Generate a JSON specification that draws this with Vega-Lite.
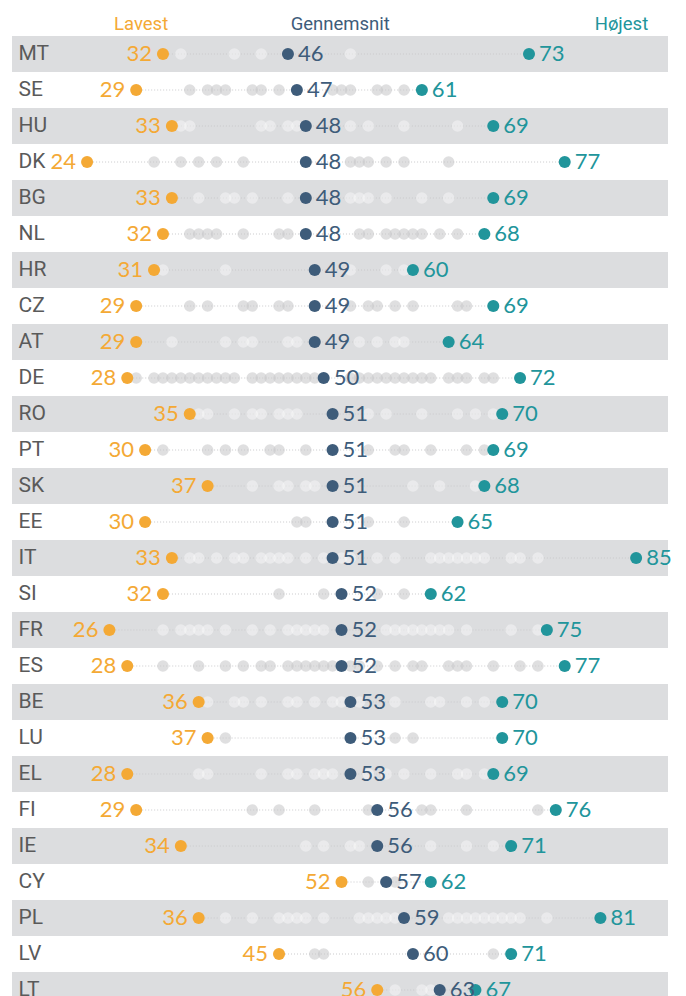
{
  "$schema": "https://vega.github.io/schema/vega-lite/v6.json",
  "autosize": "none",
  "width": 656,
  "height": 972,
  "padding": {"left": 12, "top": 36, "right": 18, "bottom": 0},
  "background": "#ffffff",
  "config": {"view": {"stroke": null}},
  "datasets": {
    "countries": [
      {"c": "MT", "min": 32, "avg": 46, "max": 73},
      {"c": "SE", "min": 29, "avg": 47, "max": 61},
      {"c": "HU", "min": 33, "avg": 48, "max": 69},
      {"c": "DK", "min": 23.5, "avg": 48, "max": 77},
      {"c": "BG", "min": 33, "avg": 48, "max": 69},
      {"c": "NL", "min": 32, "avg": 48, "max": 68},
      {"c": "HR", "min": 31, "avg": 49, "max": 60},
      {"c": "CZ", "min": 29, "avg": 49, "max": 69},
      {"c": "AT", "min": 29, "avg": 49, "max": 64},
      {"c": "DE", "min": 28, "avg": 50, "max": 72},
      {"c": "RO", "min": 35, "avg": 51, "max": 70},
      {"c": "PT", "min": 30, "avg": 51, "max": 69},
      {"c": "SK", "min": 37, "avg": 51, "max": 68},
      {"c": "EE", "min": 30, "avg": 51, "max": 65},
      {"c": "IT", "min": 33, "avg": 51, "max": 85},
      {"c": "SI", "min": 32, "avg": 52, "max": 62},
      {"c": "FR", "min": 26, "avg": 52, "max": 75},
      {"c": "ES", "min": 28, "avg": 52, "max": 77},
      {"c": "BE", "min": 36, "avg": 53, "max": 70},
      {"c": "LU", "min": 37, "avg": 53, "max": 70},
      {"c": "EL", "min": 28, "avg": 53, "max": 69},
      {"c": "FI", "min": 29, "avg": 56, "max": 76},
      {"c": "IE", "min": 34, "avg": 56, "max": 71},
      {"c": "CY", "min": 52, "avg": 57, "max": 62},
      {"c": "PL", "min": 36, "avg": 59, "max": 81},
      {"c": "LV", "min": 45, "avg": 60, "max": 71},
      {"c": "LT", "min": 56, "avg": 63, "max": 67}
    ],
    "regions": [
      {"c":"MT","v":34},{"c":"MT","v":40},{"c":"MT","v":43},{"c":"MT","v":53},
      {"c":"SE","v":35},{"c":"SE","v":37},{"c":"SE","v":38},{"c":"SE","v":39},{"c":"SE","v":42},{"c":"SE","v":43},{"c":"SE","v":45},{"c":"SE","v":51},{"c":"SE","v":52},{"c":"SE","v":53},{"c":"SE","v":56},{"c":"SE","v":57},{"c":"SE","v":59},
      {"c":"HU","v":34},{"c":"HU","v":35},{"c":"HU","v":43},{"c":"HU","v":44},{"c":"HU","v":46},{"c":"HU","v":47},{"c":"HU","v":53},{"c":"HU","v":55},{"c":"HU","v":59},{"c":"HU","v":65},
      {"c":"DK","v":31},{"c":"DK","v":34},{"c":"DK","v":36},{"c":"DK","v":38},{"c":"DK","v":41},{"c":"DK","v":53},{"c":"DK","v":54},{"c":"DK","v":55},{"c":"DK","v":57},{"c":"DK","v":59},{"c":"DK","v":64},
      {"c":"BG","v":36},{"c":"BG","v":39},{"c":"BG","v":40},{"c":"BG","v":42},{"c":"BG","v":46},{"c":"BG","v":53},{"c":"BG","v":54},{"c":"BG","v":55},{"c":"BG","v":57},{"c":"BG","v":61},{"c":"BG","v":64},
      {"c":"NL","v":35},{"c":"NL","v":36},{"c":"NL","v":37},{"c":"NL","v":38},{"c":"NL","v":41},{"c":"NL","v":45},{"c":"NL","v":46},{"c":"NL","v":54},{"c":"NL","v":55},{"c":"NL","v":57},{"c":"NL","v":58},{"c":"NL","v":59},{"c":"NL","v":60},{"c":"NL","v":61},{"c":"NL","v":63},{"c":"NL","v":65},
      {"c":"HR","v":32},{"c":"HR","v":39},{"c":"HR","v":53},{"c":"HR","v":57},{"c":"HR","v":59},
      {"c":"CZ","v":35},{"c":"CZ","v":37},{"c":"CZ","v":41},{"c":"CZ","v":42},{"c":"CZ","v":45},{"c":"CZ","v":46},{"c":"CZ","v":53},{"c":"CZ","v":55},{"c":"CZ","v":56},{"c":"CZ","v":58},{"c":"CZ","v":60},{"c":"CZ","v":65},{"c":"CZ","v":66},
      {"c":"AT","v":33},{"c":"AT","v":39},{"c":"AT","v":41},{"c":"AT","v":42},{"c":"AT","v":46},{"c":"AT","v":47},{"c":"AT","v":54},{"c":"AT","v":56},{"c":"AT","v":58},{"c":"AT","v":59},
      {"c":"DE","v":29},{"c":"DE","v":31},{"c":"DE","v":32},{"c":"DE","v":33},{"c":"DE","v":34},{"c":"DE","v":35},{"c":"DE","v":36},{"c":"DE","v":37},{"c":"DE","v":38},{"c":"DE","v":39},{"c":"DE","v":40},{"c":"DE","v":42},{"c":"DE","v":43},{"c":"DE","v":44},{"c":"DE","v":45},{"c":"DE","v":46},{"c":"DE","v":47},{"c":"DE","v":48},{"c":"DE","v":49},{"c":"DE","v":53},{"c":"DE","v":54},{"c":"DE","v":55},{"c":"DE","v":56},{"c":"DE","v":57},{"c":"DE","v":58},{"c":"DE","v":59},{"c":"DE","v":60},{"c":"DE","v":61},{"c":"DE","v":62},{"c":"DE","v":64},{"c":"DE","v":65},{"c":"DE","v":66},{"c":"DE","v":68},{"c":"DE","v":69},
      {"c":"RO","v":36},{"c":"RO","v":37},{"c":"RO","v":40},{"c":"RO","v":42},{"c":"RO","v":43},{"c":"RO","v":45},{"c":"RO","v":46},{"c":"RO","v":47},{"c":"RO","v":55},{"c":"RO","v":57},{"c":"RO","v":61},{"c":"RO","v":65},{"c":"RO","v":67},{"c":"RO","v":69},
      {"c":"PT","v":32},{"c":"PT","v":37},{"c":"PT","v":39},{"c":"PT","v":41},{"c":"PT","v":44},{"c":"PT","v":45},{"c":"PT","v":48},{"c":"PT","v":55},{"c":"PT","v":58},{"c":"PT","v":59},{"c":"PT","v":62},{"c":"PT","v":66},{"c":"PT","v":68},
      {"c":"SK","v":42},{"c":"SK","v":45},{"c":"SK","v":46},{"c":"SK","v":48},{"c":"SK","v":49},{"c":"SK","v":60},{"c":"SK","v":63},{"c":"SK","v":67},
      {"c":"EE","v":47},{"c":"EE","v":48},{"c":"EE","v":55},{"c":"EE","v":59},
      {"c":"IT","v":35},{"c":"IT","v":36},{"c":"IT","v":38},{"c":"IT","v":40},{"c":"IT","v":41},{"c":"IT","v":43},{"c":"IT","v":44},{"c":"IT","v":45},{"c":"IT","v":46},{"c":"IT","v":48},{"c":"IT","v":50},{"c":"IT","v":52},{"c":"IT","v":53},{"c":"IT","v":56},{"c":"IT","v":58},{"c":"IT","v":62},{"c":"IT","v":63},{"c":"IT","v":64},{"c":"IT","v":65},{"c":"IT","v":66},{"c":"IT","v":67},{"c":"IT","v":68},{"c":"IT","v":71},{"c":"IT","v":72},{"c":"IT","v":74},
      {"c":"SI","v":45},{"c":"SI","v":50},{"c":"SI","v":56},{"c":"SI","v":59},
      {"c":"FR","v":32},{"c":"FR","v":34},{"c":"FR","v":35},{"c":"FR","v":36},{"c":"FR","v":37},{"c":"FR","v":39},{"c":"FR","v":42},{"c":"FR","v":44},{"c":"FR","v":46},{"c":"FR","v":47},{"c":"FR","v":48},{"c":"FR","v":49},{"c":"FR","v":50},{"c":"FR","v":57},{"c":"FR","v":58},{"c":"FR","v":59},{"c":"FR","v":60},{"c":"FR","v":61},{"c":"FR","v":62},{"c":"FR","v":63},{"c":"FR","v":64},{"c":"FR","v":66},{"c":"FR","v":71},{"c":"FR","v":74},
      {"c":"ES","v":32},{"c":"ES","v":36},{"c":"ES","v":39},{"c":"ES","v":41},{"c":"ES","v":43},{"c":"ES","v":44},{"c":"ES","v":46},{"c":"ES","v":47},{"c":"ES","v":48},{"c":"ES","v":49},{"c":"ES","v":50},{"c":"ES","v":51},{"c":"ES","v":53},{"c":"ES","v":54},{"c":"ES","v":56},{"c":"ES","v":58},{"c":"ES","v":60},{"c":"ES","v":61},{"c":"ES","v":64},{"c":"ES","v":65},{"c":"ES","v":66},{"c":"ES","v":69},{"c":"ES","v":72},{"c":"ES","v":74},
      {"c":"BE","v":37},{"c":"BE","v":40},{"c":"BE","v":41},{"c":"BE","v":43},{"c":"BE","v":46},{"c":"BE","v":47},{"c":"BE","v":49},{"c":"BE","v":51},{"c":"BE","v":52},{"c":"BE","v":54},{"c":"BE","v":58},{"c":"BE","v":62},{"c":"BE","v":63},{"c":"BE","v":66},{"c":"BE","v":68},
      {"c":"LU","v":39},{"c":"LU","v":58},{"c":"LU","v":60},
      {"c":"EL","v":36},{"c":"EL","v":37},{"c":"EL","v":43},{"c":"EL","v":46},{"c":"EL","v":47},{"c":"EL","v":49},{"c":"EL","v":50},{"c":"EL","v":51},{"c":"EL","v":55},{"c":"EL","v":57},{"c":"EL","v":59},{"c":"EL","v":62},{"c":"EL","v":65},{"c":"EL","v":66},{"c":"EL","v":68},
      {"c":"FI","v":42},{"c":"FI","v":45},{"c":"FI","v":49},{"c":"FI","v":55},{"c":"FI","v":61},{"c":"FI","v":62},{"c":"FI","v":66},{"c":"FI","v":74},
      {"c":"IE","v":48},{"c":"IE","v":50},{"c":"IE","v":53},{"c":"IE","v":54},{"c":"IE","v":62},{"c":"IE","v":66},{"c":"IE","v":69},
      {"c":"CY","v":55},{"c":"CY","v":58},
      {"c":"PL","v":39},{"c":"PL","v":42},{"c":"PL","v":45},{"c":"PL","v":46},{"c":"PL","v":47},{"c":"PL","v":48},{"c":"PL","v":50},{"c":"PL","v":54},{"c":"PL","v":55},{"c":"PL","v":56},{"c":"PL","v":57},{"c":"PL","v":58},{"c":"PL","v":64},{"c":"PL","v":65},{"c":"PL","v":66},{"c":"PL","v":67},{"c":"PL","v":68},{"c":"PL","v":69},{"c":"PL","v":70},{"c":"PL","v":71},{"c":"PL","v":72},{"c":"PL","v":75},
      {"c":"LV","v":49},{"c":"LV","v":50},{"c":"LV","v":69},
      {"c":"LT","v":58},{"c":"LT","v":61},{"c":"LT","v":62}
    ]
  },
  "layer": [
    {
      "data": {"name": "countries"},
      "transform": [{"filter": {"field": "c", "oneOf": ["MT","HU","BG","HR","AT","RO","SK","IT","FR","BE","EL","IE","PL","LT"]}}],
      "mark": {"type": "rect", "color": "#DCDDDF"},
      "encoding": {
        "y": {
          "field": "c", "type": "nominal",
          "scale": {"type": "band", "paddingInner": 0, "paddingOuter": 0, "domain": ["MT","SE","HU","DK","BG","NL","HR","CZ","AT","DE","RO","PT","SK","EE","IT","SI","FR","ES","BE","LU","EL","FI","IE","CY","PL","LV","LT"]},
          "axis": {
            "title": null, "orient": "left", "domain": false, "ticks": false, "tickSize": 0,
            "labelAlign": "left", "labelPadding": -6, "labelBaseline": "middle",
            "labelFont": "Roboto", "labelFontSize": 21, "labelColor": "#5a5a5a", "zindex": 1
          }
        }
      }
    },
    {
      "data": {"name": "countries"},
      "mark": {"type": "rule", "color": "#cacacc", "strokeWidth": 1, "strokeDash": [1, 2]},
      "encoding": {
        "x": {
          "field": "min", "type": "quantitative",
          "scale": {"domain": [15.09, 88.57], "zero": false, "nice": false},
          "axis": {
            "title": null, "orient": "top", "domain": false, "ticks": false, "tickSize": 0, "grid": false,
            "values": [29.5, 51.8, 83.3],
            "labelExpr": "datum.value < 40 ? 'Lavest' : (datum.value < 70 ? 'Gennemsnit' : 'Højest')",
            "labelBaseline": "alphabetic", "labelPadding": 7, "labelAlign": "center",
            "labelFont": "Roboto", "labelFontSize": 18.5,
            "labelColor": {"condition": [{"test": "datum.value < 40", "value": "#F4A935"}, {"test": "datum.value > 70", "value": "#21959B"}], "value": "#3E5C7A"}
          }
        },
        "x2": {"field": "max"},
        "y": {"field": "c", "type": "nominal"}
      }
    },
    {
      "data": {"name": "regions"},
      "mark": {"type": "circle", "size": 135},
      "encoding": {
        "x": {"field": "v", "type": "quantitative", "scale": {"domain": [15.09, 88.57], "zero": false, "nice": false}},
        "y": {"field": "c", "type": "nominal"},
        "color": {
          "condition": {"test": "indexof(['MT','HU','BG','HR','AT','RO','SK','IT','FR','BE','EL','IE','PL','LT'], datum.c) >= 0", "value": "#ffffff"},
          "value": "#c9c9cb"
        },
        "opacity": {
          "condition": {"test": "indexof(['MT','HU','BG','HR','AT','RO','SK','IT','FR','BE','EL','IE','PL','LT'], datum.c) >= 0", "value": 0.4},
          "value": 0.6
        }
      }
    },
    {
      "data": {"name": "countries"},
      "transform": [{"fold": ["min", "avg", "max"], "as": ["k", "val"]}],
      "mark": {"type": "circle", "size": 145, "opacity": 1},
      "encoding": {
        "x": {"field": "val", "type": "quantitative", "scale": {"domain": [15.09, 88.57], "zero": false, "nice": false}},
        "y": {"field": "c", "type": "nominal"},
        "color": {"field": "k", "type": "nominal", "scale": {"domain": ["min", "avg", "max"], "range": ["#F4A935", "#3E5C7A", "#21959B"]}, "legend": null}
      }
    },
    {
      "data": {"name": "countries"},
      "mark": {"type": "text", "align": "right", "baseline": "middle", "dx": -11, "font": "Lato", "fontSize": 22, "color": "#F4A935"},
      "encoding": {
        "x": {"field": "min", "type": "quantitative", "scale": {"domain": [15.09, 88.57], "zero": false, "nice": false}},
        "y": {"field": "c", "type": "nominal"},
        "text": {"field": "min", "type": "quantitative", "format": ".0f"}
      }
    },
    {
      "data": {"name": "countries"},
      "transform": [{"fold": ["avg", "max"], "as": ["k", "val"]}],
      "mark": {"type": "text", "align": "left", "baseline": "middle", "dx": 10, "font": "Lato", "fontSize": 22},
      "encoding": {
        "x": {"field": "val", "type": "quantitative", "scale": {"domain": [15.09, 88.57], "zero": false, "nice": false}},
        "y": {"field": "c", "type": "nominal"},
        "text": {"field": "val", "type": "quantitative", "format": ".0f"},
        "color": {"field": "k", "type": "nominal", "scale": {"domain": ["min", "avg", "max"], "range": ["#F4A935", "#3E5C7A", "#21959B"]}, "legend": null}
      }
    }
  ]
}
